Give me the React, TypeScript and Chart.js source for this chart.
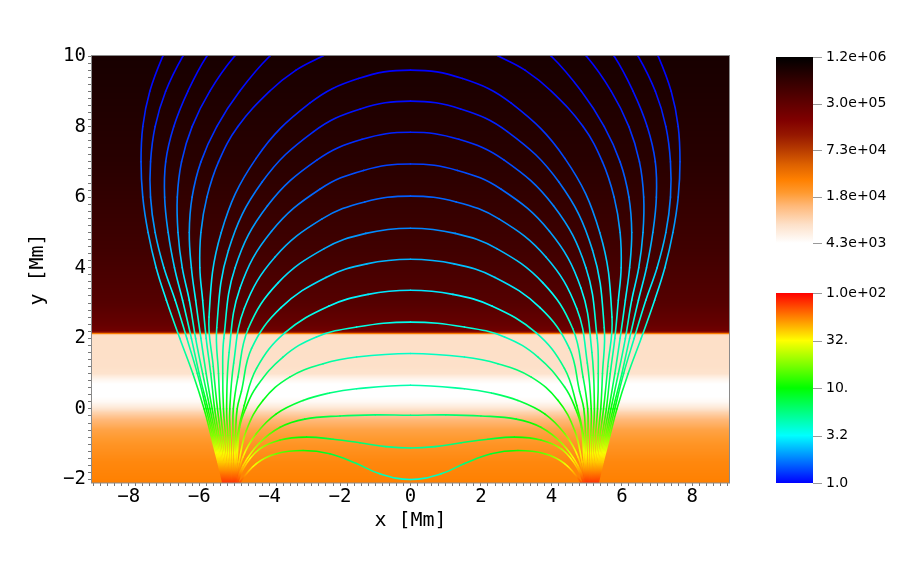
import React, { useEffect, useRef } from 'react';
import { Chart, registerables } from 'chart.js';
Chart.register(...registerables);

// ---------------- data ----------------
const X_MIN = -9.07;
const X_MAX = 9.07;
const Y_MIN = -2.1;
const Y_MAX = 10;

// temperature profile (y in Mm, T in K) read from the background shading
const profileY = [-2.1, -1.5, -1.0, -0.6, -0.3, -0.1, 0.05, 0.2, 0.35, 0.7, 0.85, 1.0, 1.2, 2.05, 2.1, 2.13, 2.17, 2.22, 2.4, 3.0, 4.5, 7.0, 10.0];
const profileT = [29200, 26000, 21500, 17500, 13000, 9000, 6300, 4800, 4300, 4300, 5200, 7100, 7500, 7550, 8000, 25000, 110000, 230000, 270000, 350000, 480000, 680000, 860000];

const tempTickLabels = ['1.2e+06', '3.0e+05', '7.3e+04', '1.8e+04', '4.3e+03'];
const bTickLabels = ['1.0e+02', '32.', '10.', '3.2', '1.0'];
const T_MIN = 4300;
const T_MAX = 1.2e6;
const B_MIN = 1;
const B_MAX = 100;

// field lines, left half (footpoint -> apex / top): [x, y, |B|]
const arch1 = [[-4.9, -2.3, 90], [-4.84, -2.08, 70], [-4.375, -1.55, 28], [-3.81, -1.27, 16], [-3.05, -1.18, 11], [-2.29, -1.27, 8], [-1.53, -1.55, 5.8], [-0.87, -1.84, 4.4], [0, -2.0, 3.8]];
const arch2 = [[-4.97, -2.3, 100], [-4.75, -1.7, 45], [-4.3, -1.15, 22], [-3.7, -0.88, 13], [-2.95, -0.8, 9.5], [-2.2, -0.86, 7.2], [-1.44, -0.96, 6.0], [-0.7, -1.07, 5.2], [0, -1.11, 5.0]];
const arch3 = [[-5.02, -2.3, 100], [-4.75, -1.6, 40], [-4.3, -0.98, 20], [-3.7, -0.52, 12], [-3.0, -0.29, 8.5], [-2.0, -0.2, 6.7], [-1.0, -0.17, 5.8], [0, -0.18, 5.5]];
const arch4 = [[-5.0, -2.3, 100], [-4.76, -1.37, 36], [-4.375, -0.7, 17], [-3.81, -0.14, 10], [-3.05, 0.24, 7.2], [-2.3, 0.45, 5.8], [-1.53, 0.57, 5.0], [0, 0.67, 4.5]];
const arch5 = [[-5.03, -2.3, 100], [-4.87, -1.5, 40], [-4.66, -0.61, 17], [-4.19, 0.24, 9.5], [-3.43, 0.9, 6.5], [-2.48, 1.28, 5.0], [-1.53, 1.47, 4.3], [0, 1.57, 4.0]];
const arch6 = [[-5.04, -2.3, 100], [-4.93, -1.5, 40], [-4.85, -0.52, 16], [-4.68, 0.02, 10.5], [-4.375, 0.62, 7.2], [-3.62, 1.47, 5.0], [-2.67, 2.04, 4.1], [-1.53, 2.32, 3.6], [0, 2.46, 3.4]];
const arch7 = [[-5.05, -2.3, 100], [-4.97, -1.5, 40], [-4.9, -0.7, 17], [-4.72, 0.1, 9.8], [-4.37, 1.149, 5.6], [-3.562, 2.16, 4.0], [-2.325, 2.91, 3.2], [-1.203, 3.245, 2.9], [0, 3.36, 2.8]];
const arch8 = [[-5.06, -2.3, 100], [-5.0, -1.5, 40], [-4.97, -0.75, 18], [-4.92, 0, 10], [-4.8, 0.5, 7.8], [-4.511, 1.713, 4.9], [-3.677, 2.868, 3.3], [-2.4, 3.725, 2.6], [-1.242, 4.109, 2.3], [0, 4.24, 2.2]];
const arch9 = [[-5.07, -2.3, 100], [-5.055, -1.5, 40], [-5.04, -0.75, 18], [-5.03, 0, 10], [-4.9, 0.9, 6.4], [-4.605, 2.277, 4.2], [-3.753, 3.577, 2.9], [-2.45, 4.541, 2.2], [-1.268, 4.973, 1.9], [0, 5.12, 1.8]];
const arch10 = [[-5.09, -2.3, 100], [-5.105, -1.5, 40], [-5.12, -0.75, 18], [-5.13, 0, 10], [-5.02, 1.3, 5.2], [-4.717, 2.852, 3.4], [-3.845, 4.305, 2.4], [-2.51, 5.383, 1.8], [-1.299, 5.865, 1.6], [0, 6.03, 1.5]];
const arch11 = [[-5.1, -2.3, 100], [-5.15, -1.5, 40], [-5.185, -0.75, 18], [-5.22, 0, 10], [-5.15, 1.6, 4.8], [-4.839, 3.426, 3.0], [-3.945, 5.033, 2.0], [-2.575, 6.224, 1.55], [-1.333, 6.758, 1.38], [0, 6.94, 1.3]];
const arch12 = [[-5.12, -2.3, 100], [-5.195, -1.5, 40], [-5.25, -0.75, 18], [-5.31, 0, 10], [-5.33, 1.0, 5.8], [-5.3, 2.0, 4.3], [-4.98, 3.997, 2.6], [-4.06, 5.754, 1.8], [-2.65, 7.057, 1.35], [-1.372, 7.641, 1.2], [0, 7.84, 1.15]];
const arch13 = [[-5.14, -2.3, 100], [-5.24, -1.5, 40], [-5.32, -0.75, 18], [-5.4, 0, 10], [-5.45, 1.0, 5.8], [-5.5, 2.3, 4.0], [-5.168, 4.496, 2.35], [-4.213, 6.427, 1.6], [-2.75, 7.86, 1.2], [-1.423, 8.501, 1.08], [0, 8.72, 1.05]];
const arch14 = [[-5.16, -2.3, 100], [-5.28, -1.5, 40], [-5.38, -0.75, 18], [-5.48, 0, 10], [-5.6, 1.2, 5.5], [-5.72, 2.6, 3.7], [-5.375, 4.994, 2.1], [-4.382, 7.1, 1.4], [-2.86, 8.662, 1.1], [-1.48, 9.361, 1.02], [0, 9.6, 1.0]];

const open6 = [[-5.18, -2.3, 100], [-5.32, -1.5, 40], [-5.44, -0.75, 18], [-5.56, 0, 10], [-5.67, 1.0, 5.8], [-5.8, 2.0, 4.3], [-5.9, 3.08, 3.2], [-5.98, 4.0, 2.6], [-5.95, 5.0, 2.1], [-5.78, 6.0, 1.7], [-5.45, 7.0, 1.4], [-4.9, 8.0, 1.2], [-4.0, 9.0, 1.07], [-3.25, 9.6, 1.02], [-2.49, 10.0, 1.0], [-1.9, 10.3, 1.0]];
const open5 = [[-5.2, -2.3, 100], [-5.355, -1.5, 40], [-5.49, -0.75, 18], [-5.63, 0, 10], [-5.8, 1.0, 5.8], [-5.95, 2.0, 4.3], [-6.1, 3.08, 3.2], [-6.22, 4.0, 2.6], [-6.28, 5.0, 2.1], [-6.2, 6.0, 1.7], [-5.95, 7.0, 1.4], [-5.5, 8.0, 1.2], [-4.85, 9.0, 1.07], [-3.99, 10.0, 1.0], [-3.4, 10.4, 1.0]];
const open4 = [[-5.22, -2.3, 100], [-5.385, -1.5, 40], [-5.54, -0.75, 18], [-5.69, 0, 10], [-5.9, 1.0, 5.8], [-6.1, 2.0, 4.3], [-6.28, 3.08, 3.2], [-6.48, 4.0, 2.6], [-6.6, 5.0, 2.1], [-6.62, 6.0, 1.7], [-6.5, 7.0, 1.4], [-6.2, 8.0, 1.2], [-5.7, 9.0, 1.07], [-4.99, 10.0, 1.0], [-4.5, 10.4, 1.0]];
const open3 = [[-5.24, -2.3, 100], [-5.415, -1.5, 40], [-5.58, -0.75, 18], [-5.75, 0, 10], [-6.0, 1.0, 5.8], [-6.22, 2.0, 4.3], [-6.47, 3.08, 3.2], [-6.7, 4.0, 2.6], [-6.88, 5.0, 2.1], [-6.98, 6.0, 1.7], [-6.95, 7.0, 1.4], [-6.72, 8.0, 1.2], [-6.32, 9.0, 1.07], [-5.78, 10.0, 1.0], [-5.4, 10.4, 1.0]];
const open2 = [[-5.26, -2.3, 100], [-5.44, -1.5, 40], [-5.62, -0.75, 18], [-5.8, 0, 10], [-6.05, 1.0, 5.8], [-6.35, 2.0, 4.3], [-6.68, 3.08, 3.2], [-7.0, 4.0, 2.6], [-7.25, 5.0, 2.1], [-7.38, 6.0, 1.7], [-7.38, 7.0, 1.4], [-7.25, 8.0, 1.2], [-6.95, 9.0, 1.07], [-6.46, 10.0, 1.0], [-6.15, 10.4, 1.0]];
const open1 = [[-5.28, -2.3, 100], [-5.47, -1.5, 40], [-5.665, -0.75, 18], [-5.86, 0, 10], [-6.18, 1.0, 5.8], [-6.55, 2.0, 4.3], [-6.93, 3.08, 3.2], [-7.22, 4.0, 2.6], [-7.45, 5.0, 2.1], [-7.6, 6.0, 1.7], [-7.65, 7.0, 1.4], [-7.6, 8.0, 1.2], [-7.4, 9.0, 1.07], [-7.03, 10.0, 1.0], [-6.8, 10.4, 1.0]];

const archLines = [arch1, arch2, arch3, arch4, arch5, arch6, arch7, arch8, arch9, arch10, arch11, arch12, arch13, arch14];
const openLines = [open1, open2, open3, open4, open5, open6];

// ---------------- colour maps ----------------
const T_STOP_F = [0, 0.1, 0.2, 0.27, 0.34, 0.42, 0.5, 0.58, 0.66, 0.75, 0.88, 1];
const T_STOP_RGB = [
  [255, 255, 255], [253, 224, 200], [255, 184, 120], [255, 154, 48], [255, 128, 0], [222, 98, 0],
  [184, 60, 0], [150, 24, 0], [128, 0, 0], [96, 0, 0], [48, 0, 0], [0, 0, 0],
];
const B_STOP_F = [0, 0.25, 0.5, 0.75, 1];
const B_STOP_RGB = [[0, 0, 255], [0, 255, 255], [0, 255, 0], [255, 255, 0], [255, 0, 0]];

function clamp01(v: number) { return v < 0 ? 0 : v > 1 ? 1 : v; }

function rampColor(f: number, stopsF: number[], stopsRGB: number[][]) {
  f = clamp01(f);
  let i = 0;
  while (i < stopsF.length - 2 && f > stopsF[i + 1]) i++;
  const t = (f - stopsF[i]) / (stopsF[i + 1] - stopsF[i]);
  const a = stopsRGB[i], b = stopsRGB[i + 1];
  const r = Math.round(a[0] + (b[0] - a[0]) * t);
  const g = Math.round(a[1] + (b[1] - a[1]) * t);
  const bl = Math.round(a[2] + (b[2] - a[2]) * t);
  return `rgb(${r},${g},${bl})`;
}

function tColor(T: number) {
  const f = (Math.log10(T) - Math.log10(T_MIN)) / (Math.log10(T_MAX) - Math.log10(T_MIN));
  return rampColor(f, T_STOP_F, T_STOP_RGB);
}
function bColorLog(lb: number) {
  const f = (lb - Math.log10(B_MIN)) / (Math.log10(B_MAX) - Math.log10(B_MIN));
  return rampColor(f, B_STOP_F, B_STOP_RGB);
}

function profileAt(y: number) {
  if (y <= profileY[0]) return profileT[0];
  const n = profileY.length;
  if (y >= profileY[n - 1]) return profileT[n - 1];
  let i = 0;
  while (i < n - 2 && y > profileY[i + 1]) i++;
  const t = (y - profileY[i]) / (profileY[i + 1] - profileY[i]);
  const l = Math.log10(profileT[i]) + (Math.log10(profileT[i + 1]) - Math.log10(profileT[i])) * t;
  return Math.pow(10, l);
}

// ---------------- plugins ----------------
const backgroundPlugin = {
  id: 'tempBackground',
  beforeDatasetsDraw(chart: any) {
    const { ctx, chartArea } = chart;
    const ys = chart.scales.y;
    const { left, right, top, bottom } = chartArea;
    ctx.save();
    for (let py = Math.floor(top); py < Math.ceil(bottom); py++) {
      const v = ys.getValueForPixel(py + 0.5);
      ctx.fillStyle = tColor(profileAt(v));
      ctx.fillRect(left, py, right - left, 1);
    }
    ctx.restore();
  },
};

function drawColorbar(ctx: CanvasRenderingContext2D, x0: number, x1: number, top: number, bottom: number, stopsF: number[], stopsRGB: number[][], labels: string[]) {
  const g = ctx.createLinearGradient(0, bottom, 0, top);
  stopsF.forEach((f, i) => g.addColorStop(f, `rgb(${stopsRGB[i][0]},${stopsRGB[i][1]},${stopsRGB[i][2]})`));
  ctx.fillStyle = g;
  ctx.fillRect(x0, top, x1 - x0, bottom - top);
  ctx.strokeStyle = '#999';
  ctx.lineWidth = 1;
  ctx.font = '14px "DejaVu Sans"';
  ctx.fillStyle = '#000';
  ctx.textAlign = 'left';
  ctx.textBaseline = 'middle';
  labels.forEach((lab, i) => {
    const y = top + (bottom - top) * i / (labels.length - 1);
    ctx.beginPath();
    ctx.moveTo(x1, Math.round(y) + 0.5);
    ctx.lineTo(x1 + 9, Math.round(y) + 0.5);
    ctx.stroke();
    ctx.fillText(lab, x1 + 13, y);
  });
}

const framePlugin = {
  id: 'frameAndBars',
  afterDraw(chart: any) {
    const { ctx, chartArea } = chart;
    const { left, right, top, bottom } = chartArea;
    ctx.save();
    ctx.strokeStyle = '#8a8a8a';
    ctx.lineWidth = 1;
    ctx.strokeRect(Math.round(left) + 0.5, Math.round(top) - 0.5, Math.round(right - left) - 1, Math.round(bottom - top) + 0.5);
    drawColorbar(ctx, 776, 813, 57, 243, T_STOP_F, T_STOP_RGB, tempTickLabels);
    drawColorbar(ctx, 776, 813, 293, 483, B_STOP_F, B_STOP_RGB, bTickLabels);
    ctx.restore();
  },
};

// ---------------- chart ----------------
function segColor(sctx: any, data: any[]) {
  const c = sctx.chart.ctx as CanvasRenderingContext2D;
  const p0 = sctx.p0, p1 = sctx.p1;
  const b0 = data[sctx.p0DataIndex].b, b1 = data[sctx.p1DataIndex].b;
  const l0 = Math.log10(b0), l1 = Math.log10(b1);
  if (!p0 || !p1 || (p0.x === p1.x && p0.y === p1.y)) return bColorLog(l0);
  const g = c.createLinearGradient(p0.x, p0.y, p1.x, p1.y);
  for (let k = 0; k <= 6; k++) {
    const t = k / 6;
    g.addColorStop(t, bColorLog(l0 + (l1 - l0) * t));
  }
  return g;
}

function makeDataset(data: any[]) {
  return {
    data,
    showLine: true,
    pointRadius: 0,
    pointHoverRadius: 0,
    borderWidth: 1.6,
    borderColor: '#00f',
    tension: 0.4,
    clip: 0,
    fill: false,
    borderCapStyle: 'round',
    borderJoinStyle: 'round',
    segment: { borderColor: (sctx: any) => segColor(sctx, data) },
  };
}

function buildDatasets() {
  const ds: any[] = [];
  archLines.forEach((l) => {
    const left = l.map((p) => ({ x: p[0], y: p[1], b: p[2] }));
    const right = l.slice(0, -1).reverse().map((p) => ({ x: -p[0], y: p[1], b: p[2] }));
    ds.push(makeDataset(left.concat(right)));
  });
  openLines.forEach((l) => {
    ds.push(makeDataset(l.map((p) => ({ x: p[0], y: p[1], b: p[2] }))));
    ds.push(makeDataset(l.map((p) => ({ x: -p[0], y: p[1], b: p[2] }))));
  });
  return ds;
}

function isMajor(v: number) {
  return Math.abs(v / 2 - Math.round(v / 2)) < 1e-6;
}
function fmt(v: number) {
  const r = Math.round(v);
  return r < 0 ? '\u2212' + Math.abs(r) : String(r);
}

const tickFont = { family: '"DejaVu Sans Mono", monospace', size: 19 };
const titleFont = { family: '"DejaVu Sans Mono", monospace', size: 20 };

export default function App() {
  const ref = useRef<HTMLCanvasElement>(null);
  useEffect(() => {
    const canvas = ref.current!;
    const chart = new Chart(canvas, {
      type: 'scatter',
      data: { datasets: buildDatasets() },
      options: {
        animation: false,
        responsive: false,
        events: [],
        elements: { line: { capBezierPoints: false } },
        layout: { padding: { left: 0, top: 56, right: 183, bottom: 0 } },
        plugins: { legend: { display: false }, tooltip: { enabled: false } },
        scales: {
          x: {
            type: 'linear',
            min: X_MIN,
            max: X_MAX,
            border: { display: false },
            grid: { drawOnChartArea: false, tickLength: 3, tickColor: '#777' },
            ticks: {
              stepSize: 0.2,
              includeBounds: false,
              autoSkip: false,
              maxRotation: 0,
              maxTicksLimit: 500,
              padding: 0,
              color: '#000',
              font: tickFont,
              callback: (v: any) => (isMajor(Number(v)) ? fmt(Number(v)) : ''),
            },
            title: { display: true, text: 'x [Mm]', color: '#000', font: titleFont, padding: { top: 0, bottom: 35 } },
            afterFit: (s: any) => { s.height = 85; },
          },
          y: {
            type: 'linear',
            min: Y_MIN,
            max: Y_MAX,
            border: { display: false },
            grid: { drawOnChartArea: false, tickLength: 3, tickColor: '#777' },
            ticks: {
              stepSize: 0.2,
              includeBounds: false,
              autoSkip: false,
              maxTicksLimit: 500,
              padding: 2,
              color: '#000',
              font: tickFont,
              callback: (v: any) => (isMajor(Number(v)) ? fmt(Number(v)) : ''),
            },
            title: { display: true, text: 'y [Mm]', color: '#000', font: titleFont, padding: { top: 26, bottom: 0 } },
            afterFit: (s: any) => { s.width = 91; },
          },
        },
      } as any,
      plugins: [backgroundPlugin, framePlugin],
    });
    return () => chart.destroy();
  }, []);
  return (
    <div style={{ position: 'absolute', left: 0, top: 0, width: 913, height: 568, background: '#fff' }}>
      <canvas ref={ref} width={913} height={568} style={{ display: 'block', width: 913, height: 568 }} />
    </div>
  );
}
